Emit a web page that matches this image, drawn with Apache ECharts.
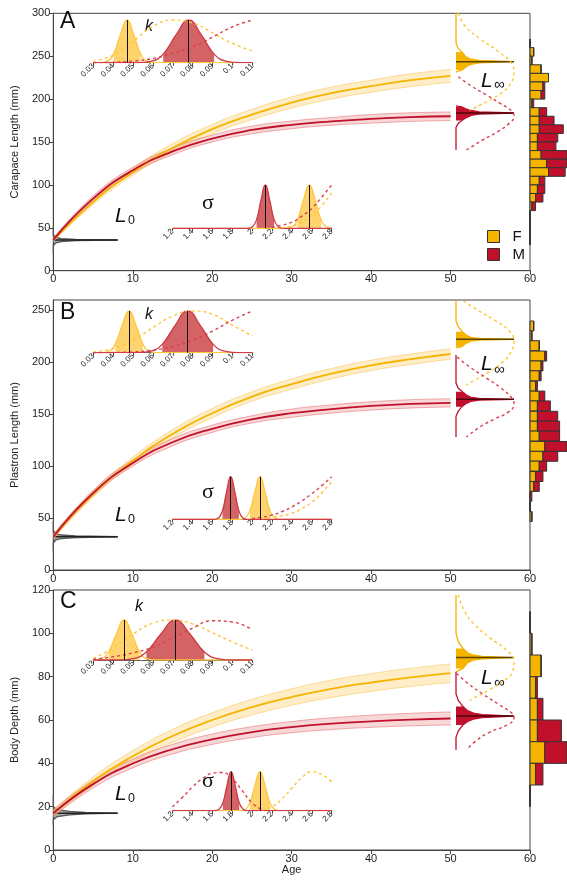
<!DOCTYPE html>
<html>
<head>
<meta charset="utf-8">
<script src="https://cdn.jsdelivr.net/npm/echarts/dist/echarts.min.js"></script>
<style>html,body{margin:0;background:#fff}#chart{width:567px;height:880px}</style>
</head>
<body>
<div id="chart"></div>
<script>
// ---- growth curves (read every 5 years) ----
const ageTicks = ['0', '5', '10', '15', '20', '25', '30', '35', '40', '45', '50', '55', '60'];

const caraF   = [36, 80, 115, 143, 165, 182, 196, 207, 215, 222, 227];
const caraFlo = [34, 77, 111, 138, 159.5, 176, 189.5, 200, 208, 214.5, 219.5];
const caraFhi = [38, 83, 119, 148, 170.5, 188, 202.5, 214, 222, 229.5, 234.5];
const caraM   = [36, 84, 117, 139, 154, 164, 170, 174, 177, 179, 180];
const caraMlo = [34, 81, 113.5, 135, 150, 159.5, 165.5, 169.5, 172, 174, 175];
const caraMhi = [38, 87, 120.5, 143, 158, 168.5, 174.5, 178.5, 182, 184, 185];

const plasF   = [32, 73, 105, 131, 151, 167, 179, 189, 197, 203, 208];
const plasFlo = [30, 70, 101.5, 127, 146.5, 162.5, 174, 184, 192, 198, 203];
const plasFhi = [34, 76, 108.5, 135, 155.5, 171.5, 184, 194, 202, 208, 213];
const plasM   = [32, 74, 103, 123, 136, 145, 151, 155, 158, 160, 161];
const plasMlo = [30, 71.5, 100, 119.5, 132.5, 141.5, 147, 151, 154, 156, 157];
const plasMhi = [34, 76.5, 106, 126.5, 139.5, 148.5, 155, 159, 162, 164, 165];

const depF   = [17, 31.7, 43.3, 52.6, 60, 65.9, 70.6, 74.4, 77.3, 79.7, 81.6];
const depFlo = [15.5, 29.7, 40.8, 49.6, 56.7, 62.3, 66.8, 70.4, 73.2, 75.5, 77.3];
const depFhi = [18.5, 33.7, 45.8, 55.6, 63.3, 69.5, 74.4, 78.4, 81.4, 83.9, 85.9];
const depM   = [17, 30.4, 39.9, 46.5, 51.1, 54.4, 56.7, 58.3, 59.4, 60.2, 60.7];
const depMlo = [15.5, 28.6, 37.9, 44.3, 48.7, 51.9, 54.1, 55.6, 56.6, 57.3, 57.7];
const depMhi = [18.5, 32.2, 41.9, 48.7, 53.5, 56.9, 59.3, 61, 62.2, 63.1, 63.7];

// ---- k posteriors [k, density] and priors ----
const kTicks = [0.03, 0.04, 0.05, 0.06, 0.07, 0.08, 0.09, 0.1, 0.11];
const kCaraF = [[0.03,0],[0.0334,0],[0.0368,0.03],[0.0402,0.2],[0.0436,0.65],[0.047,1],[0.0504,0.65],[0.0538,0.2],[0.0572,0.03],[0.0606,0],[0.11,0]];
const kCaraM = [[0.03,0],[0.0524,0],[0.0588,0.03],[0.0652,0.2],[0.0716,0.65],[0.078,1],[0.0844,0.65],[0.0908,0.2],[0.0972,0.03],[0.1036,0],[0.11,0]];
const kCaraCI = [[0.0402, 0.0538], [0.0652, 0.0908]];
const kCaraMed = [0.047, 0.078];
const kPriorCaraF = [0.03, 0.18, 0.5, 0.85, 1.0, 0.93, 0.7, 0.45, 0.28];
const kPriorCaraM = [0, 0.01, 0.04, 0.1, 0.22, 0.37, 0.6, 0.84, 1.0];

const kPlasF = [[0.03,0],[0.034,0],[0.0375,0.03],[0.041,0.2],[0.0445,0.65],[0.048,1],[0.0515,0.65],[0.055,0.2],[0.0585,0.03],[0.062,0],[0.11,0]];
const kPlasM = [[0.03,0],[0.0519,0],[0.0583,0.03],[0.0647,0.2],[0.0711,0.65],[0.0775,1],[0.0839,0.65],[0.0903,0.2],[0.0967,0.03],[0.1031,0],[0.11,0]];
const kPlasCI = [[0.041, 0.055], [0.0647, 0.0903]];
const kPlasMed = [0.048, 0.0775];
const kPriorPlasF = [0.02, 0.1, 0.3, 0.6, 0.88, 1.0, 0.92, 0.66, 0.4];
const kPriorPlasM = [0, 0.005, 0.02, 0.06, 0.15, 0.3, 0.52, 0.78, 1.0];

const kDepF = [[0.03,0],[0.0338,0.03],[0.0377,0.2],[0.0416,0.65],[0.0455,1],[0.0494,0.65],[0.0533,0.2],[0.0572,0.03],[0.0611,0],[0.11,0]];
const kDepM = [[0.03,0],[0.0421,0],[0.0494,0.03],[0.0567,0.2],[0.064,0.65],[0.0713,1],[0.0786,0.65],[0.0859,0.2],[0.0932,0.03],[0.1005,0],[0.11,0]];
const kDepCI = [[0.0377, 0.0533], [0.0567, 0.0859]];
const kDepMed = [0.0455, 0.0713];
const kPriorDepF = [0.04, 0.3, 0.65, 0.92, 1.0, 0.9, 0.68, 0.45, 0.25];
const kPriorDepM = [0.02, 0.08, 0.18, 0.32, 0.55, 0.8, 0.98, 0.95, 0.75];

// ---- sigma posteriors [sigma, density] and priors ----
const sCaraF = [[1.2,0],[2.339,0],[2.398,0.03],[2.457,0.2],[2.516,0.65],[2.575,1],[2.634,0.65],[2.693,0.2],[2.752,0.03],[2.8,0.005]];
const sCaraM = [[1.2,0],[1.958,0],[2.002,0.03],[2.046,0.2],[2.09,0.65],[2.134,1],[2.178,0.65],[2.222,0.2],[2.266,0.03],[2.31,0],[2.8,0]];
const sCaraCI = [[2.457, 2.693], [2.046, 2.222]];
const sCaraMed = [2.575, 2.134];
const sPriorCaraF = [[2.3,0.02],[2.4,0.05],[2.5,0.14],[2.6,0.3],[2.7,0.52],[2.8,0.82]];
const sPriorCaraM = [[2.2,0.02],[2.3,0.07],[2.4,0.14],[2.5,0.28],[2.6,0.46],[2.7,0.72],[2.8,1.0]];

const sPlasF = [[1.2,0],[1.88,0],[1.93,0.03],[1.98,0.2],[2.03,0.65],[2.08,1],[2.13,0.65],[2.18,0.2],[2.23,0.03],[2.28,0],[2.8,0]];
const sPlasM = [[1.2,0],[1.622,0],[1.663,0.03],[1.704,0.2],[1.745,0.65],[1.786,1],[1.827,0.65],[1.868,0.2],[1.909,0.03],[1.95,0],[2.8,0]];
const sPlasCI = [[1.98, 2.18], [1.704, 1.868]];
const sPlasMed = [2.08, 1.786];
const sPriorPlasF = [[2.1,0.02],[2.2,0.05],[2.3,0.08],[2.4,0.14],[2.5,0.25],[2.6,0.4],[2.7,0.62],[2.8,0.88]];
const sPriorPlasM = [[2.0,0.02],[2.1,0.05],[2.2,0.1],[2.3,0.18],[2.4,0.29],[2.5,0.43],[2.6,0.6],[2.7,0.79],[2.8,1.0]];

const sDepF = [[1.2,0],[1.88,0],[1.93,0.03],[1.98,0.2],[2.03,0.65],[2.08,1],[2.13,0.65],[2.18,0.2],[2.23,0.03],[2.28,0],[2.8,0]];
const sDepM = [[1.2,0],[1.626,0],[1.667,0.03],[1.708,0.2],[1.749,0.65],[1.79,1],[1.831,0.65],[1.872,0.2],[1.913,0.03],[1.954,0],[2.8,0]];
const sDepCI = [[1.98, 2.18], [1.708, 1.872]];
const sDepMed = [2.08, 1.79];
const sPriorDepF = [[2.1,0.02],[2.2,0.1],[2.3,0.3],[2.4,0.58],[2.5,0.85],[2.6,1.0],[2.7,0.93],[2.8,0.74]];
const sPriorDepM = [[1.2,0.1],[1.3,0.34],[1.4,0.6],[1.5,0.82],[1.6,0.96],[1.7,0.98],[1.8,0.82],[1.9,0.52],[2.0,0.2],[2.1,0.03]];

// ---- L-infinity posteriors [mm, density] and priors ----
const linfCaraF = [[300,0],[266,0],[260,0.03],[255,0.1],[250,0.16],[247,0.24],[245,0.4],[243.6,1],[242.2,0.4],[240.5,0.26],[238,0.18],[234,0.11],[232.5,0.04],[231.5,0]];
const linfCaraM = [[192,0],[191,0.1],[189,0.16],[187,0.24],[185,0.4],[183.8,1],[182.6,0.4],[181,0.26],[178.5,0.18],[175,0.1],[172,0.04],[167,0],[140.7,0]];
const linfCaraCI = [[234, 255], [175, 191]];
const linfCaraMed = [243.6, 183.8];
const linfPriorCaraF = [[300,0.04],[285,0.16],[270,0.42],[255,0.74],[240,0.97],[230,1.0],[218,0.94],[208,0.8],[198,0.55],[190,0.33],[187,0.24]];
const linfPriorCaraM = [[226,0.04],[215,0.27],[205,0.52],[195,0.76],[186,0.96],[180,1.0],[172,0.92],[162,0.72],[152,0.45],[144,0.26],[141,0.18]];

const linfPlasF = [[259,0],[240,0],[234,0.04],[229.5,0.11],[226,0.18],[224,0.26],[223,0.4],[222.2,1],[221.4,0.4],[220.4,0.26],[218.5,0.18],[215,0.1],[214,0]];
const linfPlasM = [[207,0],[180,0],[175,0.04],[171.7,0.11],[168.5,0.18],[166.3,0.26],[165.2,0.4],[164.4,1],[163.6,0.4],[162.5,0.26],[160.5,0.18],[157.3,0.1],[153,0.04],[148,0],[128,0]];
const linfPlasCI = [[215, 229.5], [157.3, 171.7]];
const linfPlasMed = [222.2, 164.4];
const linfPriorPlasF = [[259,0.13],[250,0.38],[240,0.68],[230,0.92],[220,1.0],[210,0.95],[200,0.8],[190,0.55],[182,0.3],[178,0.18]];
const linfPriorPlasM = [[205,0.02],[195,0.25],[185,0.52],[175,0.78],[165,0.97],[160,1.0],[152,0.9],[145,0.65],[138,0.42],[128,0.18]];

const linfDepF = [[117.7,0],[100,0],[96,0.04],[93,0.12],[91,0.2],[90,0.3],[89.4,0.45],[88.8,1],[88.2,0.45],[87.6,0.3],[86.5,0.2],[83.8,0.12],[82.2,0]];
const linfDepM = [[82.3,0],[72,0],[69,0.04],[66.2,0.12],[64.3,0.2],[63.2,0.3],[62.5,0.45],[61.8,1],[61.1,0.45],[60.4,0.3],[59.3,0.2],[57.7,0.12],[55,0.04],[52,0],[46.2,0]];
const linfDepCI = [[83.8, 93], [57.7, 66.2]];
const linfDepMed = [88.8, 61.8];
const linfPriorDepF = [[117.7,0.04],[110,0.15],[104,0.32],[98,0.58],[92,0.88],[87,1.0],[82,0.97],[78,0.82],[74,0.58],[70,0.3],[69,0.24]];
const linfPriorDepM = [[81.5,0.01],[77,0.2],[72,0.46],[67,0.75],[63,0.97],[61,1.0],[58,0.9],[54,0.55],[50,0.33],[46.2,0.18]];

// ---- L0 posteriors [mm, density] ----
const l0Cara = [[52,0],[42,0],[39,0.04],[37.5,0.12],[36.6,0.35],[35.8,1],[35,0.35],[34,0.12],[32.5,0.04],[29,0],[20,0]];
const l0Plas = [[47,0],[38,0],[35,0.04],[33.7,0.12],[32.8,0.35],[32,1],[31.2,0.35],[30.3,0.12],[29,0.04],[26,0],[18,0]];
const l0Dep  = [[25.4,0],[20,0],[18.6,0.06],[17.8,0.25],[17.3,0.5],[17,1],[16.7,0.5],[16.2,0.25],[15.4,0.06],[14,0],[11.5,0]];
const l0Med = [35.8, 32, 17];

// ---- histograms (bin centre mm, counts) ----
const caraBins = [265,255,245,235,225,215,205,195,185,175,165,155,145,135,125,115,105,95,85,75,65,55,45,35];
const caraHistF = [0,2,1,6,10,7,6,1,5,5,5,4,4,6,9,10,5,4,3,1,0,0,0,0];
const caraHistM = [0,0,0,0,0,1,2,1,4,8,13,11,10,14,11,9,3,4,4,2,0,0,0,0];
const plasBins = [235,225.5,216,206,196.5,187,177,167.5,158,148,138.5,129,119,109.5,100,90,80.5,71,61,51.5];
const plasHistF = [2,1,5,8,6,5,3,5,4,4,4,5,8,7,5,3,2,0,0,1];
const plasHistM = [0,0,0,1,1,1,1,3,7,11,12,11,12,8,4,4,3,1,0,0];
const depBins = [105,95,85,75,65,55,45,35,25];
const depHistF = [0,1,6,3,4,4,8,3,0];
const depHistM = [0,0,0,1,3,13,12,4,0];

// ---- styling ----
const FONT = '"Liberation Sans", Arial, sans-serif';
const F_COL = '#F5B400', M_COL = '#C0102C';
const AX = '#444';

const panels = [
  { letter: 'A', yName: 'Carapace Length (mm)', top: 13.3, h: 257.4, yMax: 300, yStep: 50,
    F: [caraF, caraFlo, caraFhi], M: [caraM, caraMlo, caraMhi],
    kTop: 20, kH: 42.7, k: [kCaraF, kCaraM], kCI: kCaraCI, kMed: kCaraMed, kPrior: [kPriorCaraF, kPriorCaraM],
    sTop: 185, sH: 43.3, s: [sCaraF, sCaraM], sCI: sCaraCI, sMed: sCaraMed, sPrior: [sPriorCaraF, sPriorCaraM],
    linf: [linfCaraF, linfCaraM], linfCI: linfCaraCI, linfMed: linfCaraMed, linfPrior: [linfPriorCaraF, linfPriorCaraM],
    l0: l0Cara, bins: caraBins, binW: 10, hist: [caraHistF, caraHistM],
    t: { letter: [60, 10], k: [145, 18.5], s: [202, 192], L: [481, 71], inf: [494, 77.5], L0: [115, 206], zero: [128, 214] } },
  { letter: 'B', yName: 'Plastron Length (mm)', top: 300, h: 270, yMax: 260, yStep: 50,
    F: [plasF, plasFlo, plasFhi], M: [plasM, plasMlo, plasMhi],
    kTop: 311, kH: 41.7, k: [kPlasF, kPlasM], kCI: kPlasCI, kMed: kPlasMed, kPrior: [kPriorPlasF, kPriorPlasM],
    sTop: 476.7, sH: 42.6, s: [sPlasF, sPlasM], sCI: sPlasCI, sMed: sPlasMed, sPrior: [sPriorPlasF, sPriorPlasM],
    linf: [linfPlasF, linfPlasM], linfCI: linfPlasCI, linfMed: linfPlasMed, linfPrior: [linfPriorPlasF, linfPriorPlasM],
    l0: l0Plas, bins: plasBins, binW: 9.6, hist: [plasHistF, plasHistM],
    t: { letter: [60, 301], k: [145, 307], s: [202, 481], L: [481, 354], inf: [494, 362], L0: [115, 505], zero: [128, 513] } },
  { letter: 'C', yName: 'Body Depth (mm)', top: 590, h: 260, yMax: 120, yStep: 20,
    F: [depF, depFlo, depFhi], M: [depM, depMlo, depMhi],
    kTop: 620, kH: 40, k: [kDepF, kDepM], kCI: kDepCI, kMed: kDepMed, kPrior: [kPriorDepF, kPriorDepM],
    sTop: 771.7, sH: 39, s: [sDepF, sDepM], sCI: sDepCI, sMed: sDepMed, sPrior: [sPriorDepF, sPriorDepM],
    linf: [linfDepF, linfDepM], linfCI: linfDepCI, linfMed: linfDepMed, linfPrior: [linfPriorDepF, linfPriorDepM],
    l0: l0Dep, bins: depBins, binW: 10, hist: [depHistF, depHistM],
    t: { letter: [60, 590], k: [135, 598.5], s: [202, 770.5], L: [481, 667.5], inf: [494, 675], L0: [115, 784], zero: [128, 792] } }
];

const grid = [], xAxis = [], yAxis = [], series = [], graphic = [];

function addGrid(rect, xa, ya) {
  const i = grid.length;
  grid.push(Object.assign({ containLabel: false, outerBoundsMode: 'none', show: false }, rect));
  xAxis.push(Object.assign({ type: 'value', gridIndex: i, splitLine: { show: false } }, xa));
  yAxis.push(Object.assign({ type: 'value', gridIndex: i, splitLine: { show: false } }, ya));
  return i;
}

function insetAxis(min, max, step) {
  return {
    min: min, max: max, interval: step,
    axisLine: { show: true, onZero: false, lineStyle: { color: '#666', width: 1 } },
    axisTick: { show: true, length: 3, lineStyle: { color: '#444' } },
    axisLabel: { rotate: 45, fontSize: 8, margin: 2, color: '#222', fontFamily: FONT }
  };
}

// credible band: lower edge + stacked width, on the category age axis
function bandSeries(gi, lo, hi, fill, edge, id) {
  const base = { type: 'line', xAxisIndex: gi, yAxisIndex: gi, stack: id, smooth: true,
    symbol: 'none', silent: true, lineStyle: { color: edge, width: 0.8 } };
  return [
    Object.assign({}, base, { data: lo.slice() }),
    Object.assign({}, base, { data: hi.map((h, i) => h - lo[i]), areaStyle: { color: fill, opacity: 1 } })
  ];
}

// horizontal density with shaded credible interval and median line
function hDensity(gi, pts, ci, med, fill, stroke) {
  const inner = pts.filter(p => p[0] >= ci[0] - 1e-9 && p[0] <= ci[1] + 1e-9);
  return [
    { type: 'line', xAxisIndex: gi, yAxisIndex: gi, data: inner, smooth: 0.5, symbol: 'none', silent: true,
      lineStyle: { width: 0 }, areaStyle: { color: fill, opacity: 1 } },
    { type: 'line', xAxisIndex: gi, yAxisIndex: gi, data: pts, smooth: 0.5, symbol: 'none', silent: true,
      lineStyle: { color: stroke, width: 1.3 },
      markLine: { silent: true, symbol: ['none', 'none'], label: { show: false }, animation: false,
        lineStyle: { color: '#111', width: 1, type: 'solid' },
        data: [[{ coord: [med, 0] }, { coord: [med, 1] }]] } }
  ];
}

function dashed(gi, pts, color, vertical) {
  return { type: 'line', xAxisIndex: gi, yAxisIndex: gi, silent: true, smooth: true, symbol: 'none',
    data: vertical ? pts.map(p => [p[1], p[0]]) : pts,
    lineStyle: { color: color, width: 1.4, type: [3, 3] } };
}

// vertical density (value on y, density on x)
function vDensity(gi, pts, ci, med, fill, stroke, medCol) {
  return { type: 'custom', xAxisIndex: gi, yAxisIndex: gi, silent: true,
    data: pts.map(p => [p[1], p[0]]),
    renderItem: function (params, api) {
      if (params.dataIndex !== 0) return null;
      const c = p => api.coord([p[1], p[0]]);
      const inner = pts.filter(p => p[0] >= ci[0] && p[0] <= ci[1]);
      const poly = [c([inner[0][0], 0])].concat(inner.map(c), [c([inner[inner.length - 1][0], 0])]);
      const m0 = c([med, 0]), m1 = c([med, 1]);
      return { type: 'group', children: [
        { type: 'polygon', shape: { points: poly }, style: { fill: fill } },
        { type: 'polyline', shape: { points: pts.map(c) }, style: { stroke: stroke, lineWidth: 1.3, fill: null } },
        { type: 'line', shape: { x1: m0[0], y1: m0[1], x2: m1[0], y2: m1[1] }, style: { stroke: medCol, lineWidth: 1.5 } }
      ] };
    } };
}

function histSeries(gi, name, bins, w, start, vals, color) {
  return { type: 'custom', name: name, xAxisIndex: gi, yAxisIndex: gi, silent: true,
    itemStyle: { color: color },
    data: bins.map((b, i) => [b, start ? start[i] : 0, vals[i]]),
    encode: { x: 2, y: 0 },
    renderItem: function (params, api) {
      const y = api.value(0), x0 = api.value(1), v = api.value(2);
      const p0 = api.coord([x0, y + w / 2]);
      const p1 = api.coord([x0 + v, y - w / 2]);
      return { type: 'rect', shape: { x: p0[0], y: p0[1], width: p1[0] - p0[0], height: p1[1] - p0[1] },
        style: { fill: color, stroke: '#333', lineWidth: 1 } };
    } };
}

function text(pos, str, font) {
  graphic.push({ type: 'text', left: pos[0], top: pos[1], silent: true,
    style: { text: str, font: font, fill: '#111' } });
}

panels.forEach(function (p, pi) {
  const lab = { fontSize: 11, color: '#222', margin: 3, fontFamily: FONT };
  const main = addGrid(
    { left: 53.3, top: p.top, width: 476.7, height: p.h, show: true, borderColor: AX, borderWidth: 1 },
    { type: 'category', data: ageTicks, boundaryGap: false,
      axisLine: { show: true, onZero: false, lineStyle: { color: AX } },
      axisTick: { show: true, length: 4, interval: 1, lineStyle: { color: AX } },
      axisLabel: Object.assign({}, lab, { interval: 1 }),
      name: pi === 2 ? 'Age' : '', nameLocation: 'middle', nameGap: 14,
      nameTextStyle: { fontSize: 11, color: '#222', fontFamily: FONT } },
    { min: 0, max: p.yMax, interval: p.yStep,
      axisLine: { show: true, onZero: false, lineStyle: { color: AX } },
      axisTick: { show: true, length: 4, lineStyle: { color: AX } },
      axisLabel: Object.assign({}, lab, { showMaxLabel: p.yMax % p.yStep === 0 }),
      name: p.yName, nameLocation: 'middle', nameGap: 33,
      nameTextStyle: { fontSize: 11, color: '#222', fontFamily: FONT } });

  // growth curves with credible bands
  series.push.apply(series, bandSeries(main, p.F[1], p.F[2], 'rgba(253,214,130,0.45)', 'rgba(248,196,90,0.7)', 'bf' + pi));
  series.push.apply(series, bandSeries(main, p.M[1], p.M[2], 'rgba(236,140,140,0.35)', 'rgba(226,110,110,0.7)', 'bm' + pi));
  series.push({ type: 'line', xAxisIndex: main, yAxisIndex: main, silent: true, smooth: true, symbol: 'none',
    data: p.F[0], lineStyle: { color: F_COL, width: 1.8 } });
  series.push({ type: 'line', xAxisIndex: main, yAxisIndex: main, silent: true, smooth: true, symbol: 'none',
    data: p.M[0], lineStyle: { color: M_COL, width: 1.8 } });

  // L0 density at age 0
  const gl0 = addGrid({ left: 53.3, top: p.top, width: 64.4, height: p.h },
    { min: 0, max: 1, show: false }, { min: 0, max: p.yMax, show: false });
  series.push(vDensity(gl0, p.l0, [0, 1000], l0Med[pi], 'rgba(70,70,70,0.45)', '#555', '#222'));

  // L-infinity densities
  const gli = addGrid({ left: 456, top: p.top, width: 58, height: p.h },
    { min: 0, max: 1, show: false }, { min: 0, max: p.yMax, show: false });
  series.push(vDensity(gli, p.linf[0], p.linfCI[0], p.linfMed[0], F_COL, F_COL, 'rgba(40,30,0,0.75)'));
  series.push(vDensity(gli, p.linf[1], p.linfCI[1], p.linfMed[1], M_COL, M_COL, 'rgba(40,0,0,0.75)'));
  series.push(dashed(gli, p.linfPrior[0], '#FFC53A', true));
  series.push(dashed(gli, p.linfPrior[1], '#D9404E', true));

  // k inset
  const gk = addGrid({ left: 93.3, top: p.kTop, width: 159, height: p.kH },
    insetAxis(0.03, 0.11, 0.01), { min: 0, max: 1, show: false });
  series.push.apply(series, hDensity(gk, p.k[0], p.kCI[0], p.kMed[0], '#FFD46E', '#FFC73A'));
  series.push.apply(series, hDensity(gk, p.k[1], p.kCI[1], p.kMed[1], '#D46366', '#D03A48'));
  series.push(dashed(gk, kTicks.map((x, i) => [x, p.kPrior[0][i]]), '#FFC53A', false));
  series.push(dashed(gk, kTicks.map((x, i) => [x, p.kPrior[1][i]]), '#D9404E', false));

  // sigma inset
  const gs = addGrid({ left: 172.3, top: p.sTop, width: 159.4, height: p.sH },
    insetAxis(1.2, 2.8, 0.2), { min: 0, max: 1, show: false });
  series.push.apply(series, hDensity(gs, p.s[0], p.sCI[0], p.sMed[0], '#FFD46E', '#FFC73A'));
  series.push.apply(series, hDensity(gs, p.s[1], p.sCI[1], p.sMed[1], '#D46366', '#D03A48'));
  series.push(dashed(gs, p.sPrior[0], '#FFC53A', false));
  series.push(dashed(gs, p.sPrior[1], '#D9404E', false));

  // marginal histogram
  const gh = addGrid({ left: 530, top: p.top, width: 37, height: p.h },
    { min: 0, max: 20, show: false }, { min: 0, max: p.yMax, show: false });
  series.push(histSeries(gh, 'F', p.bins, p.binW, null, p.hist[0], F_COL));
  series.push(histSeries(gh, 'M', p.bins, p.binW, p.hist[0], p.hist[1], M_COL));

  // labels
  text(p.t.letter, p.letter, '23px ' + FONT);
  text(p.t.k, 'k', 'italic 16px ' + FONT);
  text(p.t.s, 'σ', '22px "Liberation Serif", "DejaVu Serif", serif');
  text(p.t.L, 'L', 'italic 21px ' + FONT);
  text(p.t.inf, '∞', '15px ' + FONT);
  text(p.t.L0, 'L', 'italic 21px ' + FONT);
  text(p.t.zero, '0', '12.5px ' + FONT);
});

const chart = echarts.init(document.getElementById('chart'));
chart.setOption({
  animation: false,
  backgroundColor: '#fff',
  grid: grid, xAxis: xAxis, yAxis: yAxis, series: series, graphic: graphic,
  legend: {
    left: 482, top: 224, orient: 'vertical', icon: 'rect', itemWidth: 12, itemHeight: 12, itemGap: 3,
    selectedMode: false,
    textStyle: { fontSize: 15, color: '#111', fontFamily: FONT, padding: [0, 0, 0, 8] },
    data: [
      { name: 'F', itemStyle: { color: F_COL, borderColor: '#333', borderWidth: 1 } },
      { name: 'M', itemStyle: { color: M_COL, borderColor: '#333', borderWidth: 1 } }
    ]
  }
});
</script>
</body>
</html>
